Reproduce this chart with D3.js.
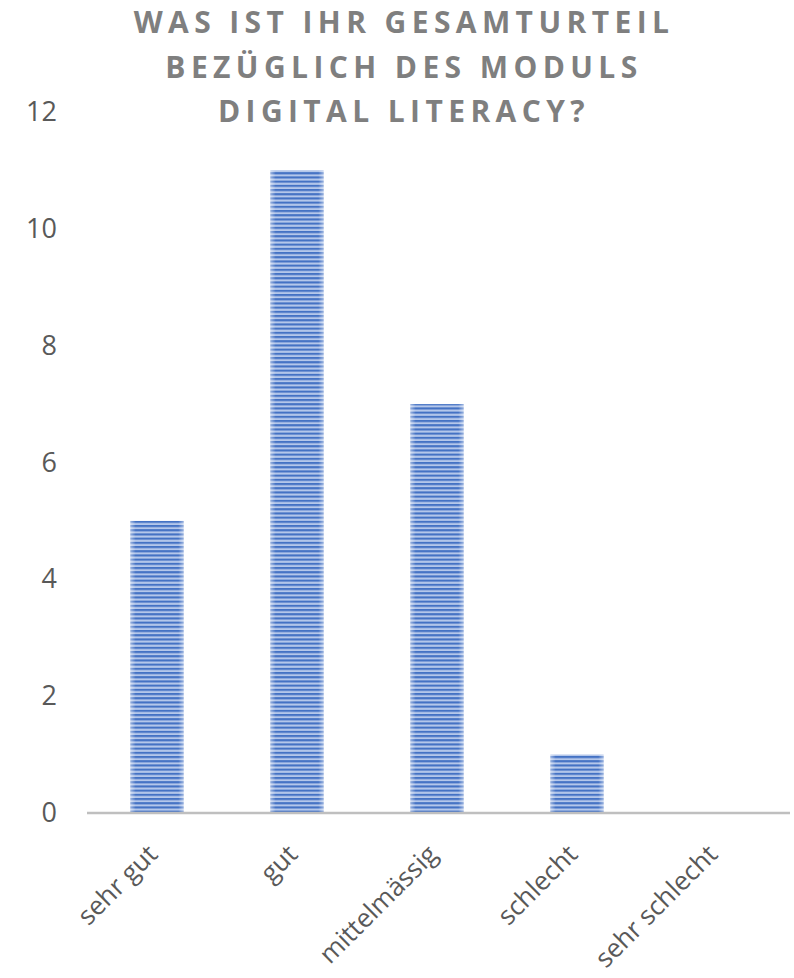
<!DOCTYPE html>
<html>
<head>
<meta charset="utf-8">
<script src="https://cdn.jsdelivr.net/npm/d3@7"></script>
<style>
  body { margin: 0; background: #fff; }
</style>
</head>
<body>
<div class="chart"></div>
<script>
// data
var categories = ["sehr gut", "gut", "mittelmässig", "schlecht", "sehr schlecht"];
var values = [5, 11, 7, 1, 0];
var yTicks = [0, 2, 4, 6, 8, 10, 12];
var titleLines = ["WAS IST IHR GESAMTURTEIL", "BEZÜGLICH DES MODULS", "DIGITAL LITERACY?"];

var svgWidth = 794;
var svgHeight = 978;

var svg = d3.select(".chart")
  .append("svg")
  .attr("width", svgWidth)
  .attr("height", svgHeight);

// stripe pattern + soft edges for the bars
var defs = svg.append("defs");
var pat = defs.append("pattern")
  .attr("id", "stripes")
  .attr("patternUnits", "userSpaceOnUse")
  .attr("width", 10)
  .attr("height", 4.2);
pat.append("rect").attr("width", 10).attr("height", 4.2).attr("fill", "#b4c7ea");
pat.append("rect").attr("width", 10).attr("height", 2.1).attr("fill", "#4472c4");

var edge = defs.append("linearGradient").attr("id", "edge");
edge.append("stop").attr("offset", "0%").attr("stop-color", "#fff").attr("stop-opacity", 0.45);
edge.append("stop").attr("offset", "10%").attr("stop-color", "#fff").attr("stop-opacity", 0);
edge.append("stop").attr("offset", "90%").attr("stop-color", "#fff").attr("stop-opacity", 0);
edge.append("stop").attr("offset", "100%").attr("stop-color", "#fff").attr("stop-opacity", 0.45);

// scales
var x = d3.scaleBand()
  .domain(categories)
  .range([87, 787])
  .paddingInner(0.62)
  .paddingOuter(0.31);

var y = d3.scaleLinear()
  .domain([0, 12])
  .range([813, 112]);

// title
svg.append("text")
  .attr("text-anchor", "middle")
  .style("font-family", "'Open Sans', sans-serif")
  .style("font-weight", "bold")
  .style("font-size", "30px")
  .style("letter-spacing", "5.4px")
  .attr("fill", "#7f7f7f")
  .selectAll("tspan")
  .data(titleLines)
  .join("tspan")
  .attr("x", 404)
  .attr("y", function (d, i) { return 33 + i * 44.5; })
  .text(function (d) { return d; });

// y axis labels (no line)
var yAxis = svg.append("g")
  .attr("transform", "translate(57,0)")
  .call(d3.axisLeft(y).tickValues(yTicks).tickSize(0).tickPadding(0));
yAxis.select(".domain").remove();
yAxis.selectAll("text")
  .style("font-family", "'Open Sans', sans-serif")
  .style("font-size", "27px")
  .attr("fill", "#595959");

// bars
var bars = svg.append("g");
bars.selectAll("rect.bar")
  .data(values)
  .join("rect")
  .attr("class", "bar")
  .attr("x", function (d, i) { return x(categories[i]); })
  .attr("y", function (d) { return y(d); })
  .attr("width", x.bandwidth())
  .attr("height", function (d) { return y(0) - y(d); })
  .attr("fill", "url(#stripes)");
bars.selectAll("rect.glow")
  .data(values)
  .join("rect")
  .attr("class", "glow")
  .attr("x", function (d, i) { return x(categories[i]); })
  .attr("y", function (d) { return y(d); })
  .attr("width", x.bandwidth())
  .attr("height", function (d) { return y(0) - y(d); })
  .attr("fill", "url(#edge)");

// x axis
var xAxis = svg.append("g")
  .attr("transform", "translate(0," + y(0) + ")")
  .call(d3.axisBottom(x).tickSize(0).tickSizeOuter(0).tickPadding(0));
xAxis.select(".domain")
  .attr("d", "M87,0H790")
  .attr("stroke", "#bfbfbf")
  .attr("stroke-width", 2.5);
xAxis.selectAll("text")
  .attr("y", 0)
  .attr("dy", "0")
  .attr("text-anchor", "end")
  .attr("transform", "translate(2,43) rotate(-45)")
  .style("font-family", "'Open Sans', sans-serif")
  .style("font-size", "26px")
  .attr("fill", "#595959");
</script>
</body>
</html>
